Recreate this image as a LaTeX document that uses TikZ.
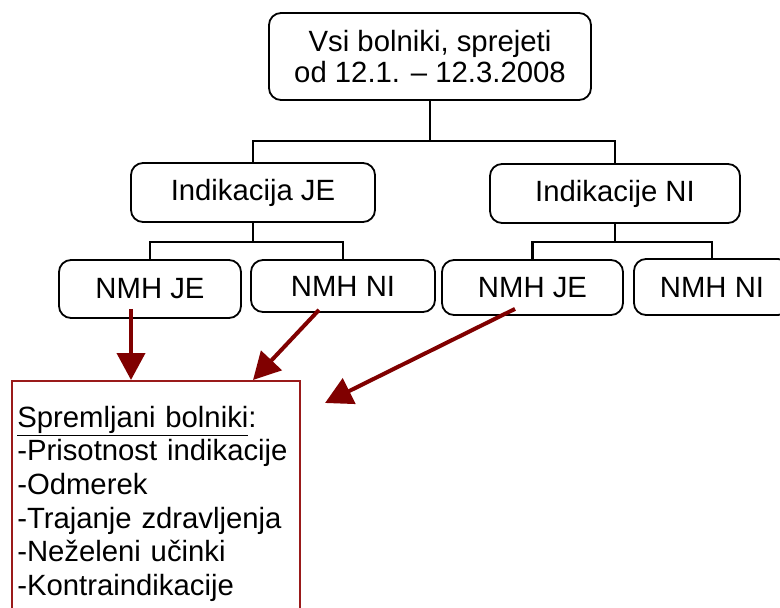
\documentclass[tikz,border=0pt]{standalone}
\usepackage{fontspec}
\setmainfont{Liberation Sans}
\usepackage{xcolor}
\usetikzlibrary{arrows.meta, calc, positioning}
\definecolor{mydarkred}{HTML}{800000}
\definecolor{myboxred}{HTML}{9A1A1A}
\tikzset{
  % Riquadri dell'albero
  box/.style={draw=black,line width=1.8pt,rounded corners=12pt,inner sep=0pt,align=center},
  box list/.style={draw=myboxred,line width=1.5pt,anchor=north west,align=left,text width=277pt,
    minimum width=288pt,minimum height=246pt,inner xsep=5.5pt,inner ysep=24pt},
  % Connessioni
  connect/.style={line width=2.6pt,black},
  connect arrow/.style={-{Triangle[length=27pt,width=28pt]},line width=4pt,mydarkred}
}
\begin{document}
\begin{tikzpicture}[x=1pt,y=-1pt,font=\fontsize{29.3}{33.6}\selectfont]
\useasboundingbox (0,0) rectangle (780,608);

% Livello 1
\node[box,minimum width=322pt,minimum height=87pt,font=\fontsize{29.3}{31.6}\selectfont] (all) at (430,56.5)
  {Vsi bolniki, sprejeti\\od 12.1. -- 12.3.2008};

% Livello 2
\node[box,minimum width=244pt,minimum height=59pt] (indJE) at (253,192.5) {Indikacija JE};
\node[box,minimum width=250pt,minimum height=59pt] (indNI) at (615,193.5) {Indikacije NI};

% Livello 3
\node[box,minimum width=182pt,minimum height=58pt] (nmhJEa) at (150,289) {NMH JE};
\node[box,minimum width=184pt,minimum height=52pt] (nmhNIa) at (343,286) {NMH NI};
\node[box,minimum width=181pt,minimum height=55pt] (nmhJEb) at (532.5,287.5) {NMH JE};
\node[box,minimum width=156pt,minimum height=56pt] (nmhNIb) at (712,287) {NMH NI};

% Riquadro dei bolniki
\node[box list] (spremljani) at (11,380)
  {\underline{Spremljani bolniki}:\\-Prisotnost indikacije\\-Odmerek\\-Trajanje zdravljenja\\-Neželeni učinki\\-Kontraindikacije};
\coordinate (free) at (325,403);

% Albero
\draw[connect] (all.south) -- ++(0,40) -| (indJE.north);
\draw[connect] (all.south) -- ++(0,40) -| (indNI.north);
\draw[connect] (indJE.south) -- ++(0,19) -| (nmhJEa.north);
\draw[connect] (indJE.south) -- ++(0,19) -| (nmhNIa.north);
\draw[connect] (indNI.south) -- ++(0,18) -| (nmhJEb.north);
\draw[connect] (indNI.south) -- ++(0,18) -| (nmhNIb.north);

% Frecce
\draw[connect arrow] ([xshift=-19pt,yshift=10pt]nmhJEa.south) -- ([xshift=120pt]spremljani.north west);
\draw[connect arrow] ([xshift=-24pt,yshift=3pt]nmhNIa.south) -- ([xshift=242pt]spremljani.north west);
\draw[connect arrow] ([xshift=-17.5pt,yshift=7pt]nmhJEb.south) -- (free);

\end{tikzpicture}
\end{document}
